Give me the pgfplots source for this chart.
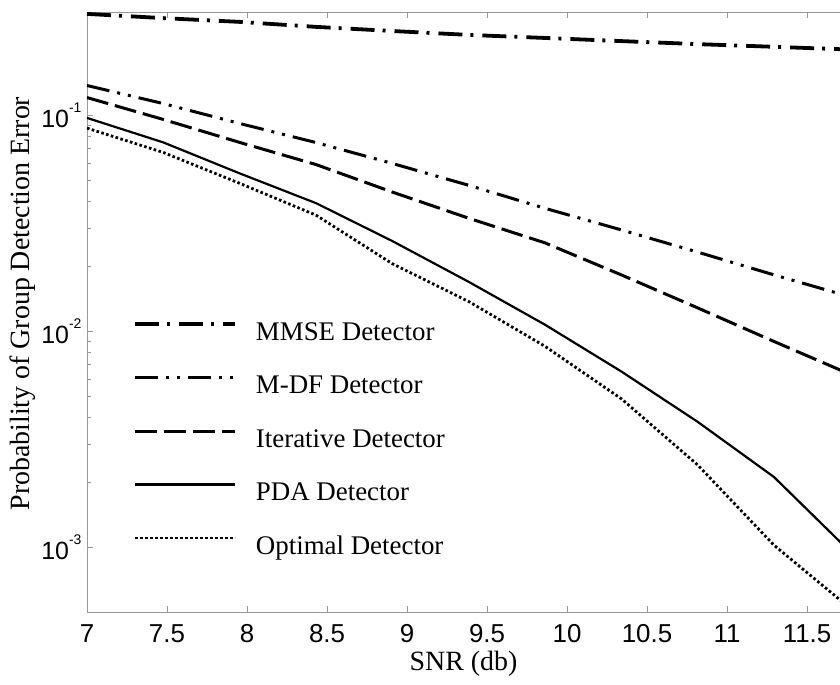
\documentclass[border=0pt]{standalone}
\usepackage{fontspec}
\setmainfont{Liberation Serif}
\setsansfont{Liberation Sans}
\usepackage{pgfplots}
\pgfplotsset{compat=1.18}

% error rates versus SNR for the five group detectors
\pgfplotstableread{
snr    mmse    mdf     iter     pda      opt
7.000  0.294   0.137   0.1205   0.0970   0.0870
7.477  0.281   0.113   0.0954   0.0747   0.0671
7.954  0.270   0.0914  0.0747   0.0537   0.0483
8.431  0.256   0.0746  0.0590   0.0391   0.0344
8.908  0.245   0.0597  0.0440   0.0261   0.0205
9.385  0.235   0.0473  0.0333   0.0169   0.0137
9.862  0.2275  0.0370  0.0256   0.0107   0.0085
10.339 0.220   0.0294  0.0182   0.0065   0.00486
10.816 0.213   0.0232  0.0128   0.0038   0.0024
11.293 0.207   0.0182  0.00895  0.00211  0.00102
11.770 0.201   0.0144  0.0063   0.00095  0.00052
}\errtable

% power-of-ten tick label with a small raised exponent
\newcommand\decade[1]{10\raisebox{0.62em}{\fontsize{14}{14}\selectfont -#1}}

\begin{document}
\begin{tikzpicture}
\begin{axis}[
  scale only axis,
  width=753bp, height=600bp,
  xmin=7, xmax=11.706,
  ymode=log, ymin=5e-4, ymax=0.3,
  axis y line*=left,
  xtick={7,7.5,8,8.5,9,9.5,10,10.5,11,11.5},
  ytick={1e-3,1e-2,1e-1},
  yticklabels={\decade{3},\decade{2},\decade{1}},
  xtick pos=both, ytick pos=left,
  tick align=inside, ytick align=inside,
  major tick length=6bp, minor tick length=4bp,
  axis line style={draw=black!40, line width=0.8bp, -},
  every tick/.style={draw=black!40, line width=0.8bp},
  /pgf/number format/assume math mode=true,
  xticklabel style={font=\sffamily\fontsize{26}{28}\selectfont, yshift=-9bp},
  yticklabel style={font=\sffamily\fontsize{25}{28}\selectfont, xshift=-2bp},
  xlabel={SNR (db)},
  xlabel style={font=\fontsize{28}{31}\selectfont,
    at={(axis description cs:0.5,-0.086)}, anchor=center},
  ylabel={Probability of Group Detection Error},
  ylabel style={font=\fontsize{28}{31}\selectfont,
    at={(axis description cs:-0.085,0.514)}, anchor=center},
  legend cell align=left,
  legend image code/.code={\draw[#1] (0bp,9bp) -- (100bp,9bp);},
  legend style={at={(0.061,0.487)}, anchor=north west, draw=none, fill=none,
    inner sep=0pt, row sep=27.5bp, column sep=19bp,
    font=\fontsize{27}{30}\selectfont,
    nodes={inner sep=0pt, text height=20bp, text depth=6bp}},
]
\addplot[black, line width=3.8bp, dash pattern=on 24bp off 8bp on 3bp off 9bp]
  table[x=snr, y=mmse] {\errtable};
\addlegendentry{MMSE Detector}
\addplot[black, line width=3bp, dash pattern=on 23bp off 8bp on 3bp off 8bp on 3bp off 8bp]
  table[x=snr, y=mdf] {\errtable};
\addlegendentry{M-DF Detector}
\addplot[black, line width=3bp, dash pattern=on 22bp off 7bp]
  table[x=snr, y=iter] {\errtable};
\addlegendentry{Iterative Detector}
\addplot[black, line width=2.2bp]
  table[x=snr, y=pda] {\errtable};
\addlegendentry{PDA Detector}
\addplot[black, line width=2.8bp, dash pattern=on 2.6bp off 2.4bp]
  table[x=snr, y=opt] {\errtable};
\addlegendentry{Optimal Detector}
\end{axis}
\pgfresetboundingbox
\path[use as bounding box] ([xshift=-87bp,yshift=-73bp]current axis.south west)
  rectangle ([yshift=12bp]current axis.north east);
\end{tikzpicture}
\end{document}
